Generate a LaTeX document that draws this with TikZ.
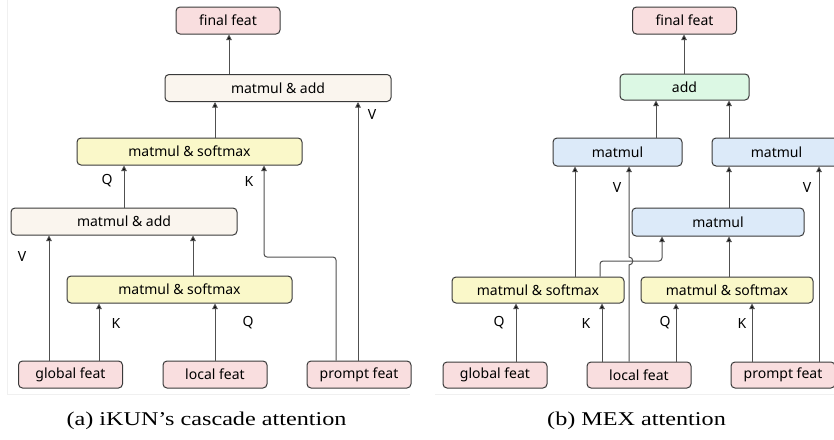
\documentclass[tikz,border=0pt]{standalone}
\usepackage{fontspec}
\setmainfont{Liberation Serif}
\newfontfamily\boxfont{Noto Sans}
\usetikzlibrary{arrows.meta}

\definecolor{featpink}{HTML}{F9DEDF}
\definecolor{creambox}{HTML}{FAF5EE}
\definecolor{yellowbox}{HTML}{FAF8C9}
\definecolor{greenbox}{HTML}{DCF8E4}
\definecolor{bluebox}{HTML}{DCEAF9}
\definecolor{edgegray}{HTML}{3A3A3A}
\definecolor{linegray}{HTML}{505050}

\tikzset{
  blk/.style={draw=edgegray, line width=1pt, rounded corners=4pt,
    inner sep=0pt, minimum height=27pt, font=\boxfont\fontsize{14}{16}\selectfont},
  feat/.style={blk, fill=featpink, minimum width=104pt},
  arr/.style={draw=linegray, line width=1pt, -{Triangle[length=5.5pt,width=5.5pt,fill=black]}},
  lbl/.style={font=\boxfont\fontsize{14}{16}\selectfont}
}

\begin{document}
\begin{tikzpicture}[x=1pt, y=-1pt]
\useasboundingbox (0,0) rectangle (834,439);
\draw[gray!12, line width=0.6pt] (7,0) -- (7,394) -- (410,394);
\draw[gray!12, line width=0.6pt] (435,394) -- (834,394);

% (a) cascade attention
\node[feat] (finalA) at (228,20.5) {final feat};
\node[blk, fill=creambox, minimum width=226pt] (addA) at (278,88) {matmul \& add};
\node[blk, fill=yellowbox, minimum width=225pt] (softA) at (189.5,151.5) {matmul \& softmax};
\node[blk, fill=creambox, minimum width=226pt] (addLowA) at (124,221.5) {matmul \& add};
\node[blk, fill=yellowbox, minimum width=225pt] (softLowA) at (179.5,289.5) {matmul \& softmax};
\node[feat] (globalA) at (70.5,374.5) {global feat};
\node[feat] (localA) at (215,374.5) {local feat};
\node[feat] (promptA) at (359,374.5) {prompt feat};

\coordinate (a1) at (229,0);
\coordinate (a2) at (215,0);
\coordinate (a3) at (358,0);
\coordinate (a4) at (124,0);
\coordinate (a5) at (264,257);
\coordinate (a6) at (336,257);
\coordinate (a7) at (49,0);
\coordinate (a8) at (99,0);
\coordinate (a9) at (193,0);

\draw[arr] (addA.north -| a1) -- (finalA.south -| a1);
\draw[arr] (softA.north -| a2) -- (addA.south -| a2);
\draw[arr] (promptA.north -| a3) -- (addA.south -| a3);
\draw[arr] (addLowA.north -| a4) -- (softA.south -| a4);
\draw[arr, rounded corners=3pt] (promptA.north -| a6) -- (a6) -- (a5) -- (softA.south -| a5);
\draw[arr] (globalA.north -| a7) -- (addLowA.south -| a7);
\draw[arr] (globalA.north -| a8) -- (softLowA.south -| a8);
\draw[arr] (softLowA.north -| a9) -- (addLowA.south -| a9);
\draw[arr] (localA.north -| a2) -- (softLowA.south -| a2);

\node[lbl] (vA1) at (372,115) {V};
\node[lbl] (qA1) at (107,181) {Q};
\node[lbl] (kA1) at (249,181) {K};
\node[lbl] (vA2) at (22,256) {V};
\node[lbl] (kA2) at (116,323) {K};
\node[lbl] (qA2) at (248,323) {Q};

% (b) MEX attention
\node[feat] (finalB) at (684.5,20.5) {final feat};
\node[blk, fill=greenbox, minimum width=129pt, minimum height=26pt] (addB) at (684.5,87) {add};
\node[blk, fill=bluebox, minimum width=129pt, minimum height=28pt] (mmB1) at (617.5,152) {matmul};
\node[blk, fill=bluebox, minimum width=129pt, minimum height=28pt] (mmB2) at (776.5,152) {matmul};
\node[blk, fill=bluebox, minimum width=172pt, minimum height=28pt] (mmB3) at (718,222) {matmul};
\node[blk, fill=yellowbox, minimum width=172pt, minimum height=26pt] (softB1) at (538,290) {matmul \& softmax};
\node[blk, fill=yellowbox, minimum width=172pt, minimum height=26pt] (softB2) at (727,290) {matmul \& softmax};
\node[feat, minimum height=26pt] (globalB) at (495,375) {global feat};
\node[feat, minimum height=26pt] (localB) at (639,375) {local feat};
\node[feat, minimum height=26pt] (promptB) at (783,375) {prompt feat};

\coordinate (b1) at (684,0);
\coordinate (b2) at (656,0);
\coordinate (b3) at (729,0);
\coordinate (b4) at (575,0);
\coordinate (b5) at (629,0);
\coordinate (b6) at (819,0);
\coordinate (b7) at (600,261);
\coordinate (b8) at (662,261);
\coordinate (b9) at (516,0);
\coordinate (b10) at (602,0);
\coordinate (b11) at (676,0);
\coordinate (b12) at (752,0);
\coordinate (hop) at (629,261);

\draw[arr] (addB.north -| b1) -- (finalB.south -| b1);
\draw[arr] (mmB1.north -| b2) -- (addB.south -| b2);
\draw[arr] (mmB2.north -| b3) -- (addB.south -| b3);
\draw[arr] (softB1.north -| b4) -- (mmB1.south -| b4);
\draw[arr] (localB.north -| b5) -- ([yshift=-4]hop)
  .. controls ([xshift=5,yshift=-4]hop) and ([xshift=5,yshift=4]hop) .. ([yshift=4]hop)
  -- (mmB1.south -| b5);
\draw[arr] (mmB3.north -| b3) -- (mmB2.south -| b3);
\draw[arr] (promptB.north -| b6) -- (mmB2.south -| b6);
\draw[arr, rounded corners=3pt] (softB1.north -| b7) -- (b7) -- (b8) -- (mmB3.south -| b8);
\draw[arr] (softB2.north -| b3) -- (mmB3.south -| b3);
\draw[arr] (globalB.north -| b9) -- (softB1.south -| b9);
\draw[arr] (localB.north -| b10) -- (softB1.south -| b10);
\draw[arr] (localB.north -| b11) -- (softB2.south -| b11);
\draw[arr] (promptB.north -| b12) -- (softB2.south -| b12);

\node[lbl] (vB1) at (617,187) {V};
\node[lbl] (vB2) at (807,187) {V};
\node[lbl] (qB1) at (499,323) {Q};
\node[lbl] (kB1) at (586,323) {K};
\node[lbl] (qB2) at (665,323) {Q};
\node[lbl] (kB2) at (742,323) {K};

% captions
\node[font=\fontsize{19.5}{22}\selectfont, xscale=1.24] (capA) at (206.5,421) {(a) iKUN's cascade attention};
\node[font=\fontsize{19.5}{22}\selectfont, xscale=1.24] (capB) at (636.5,421) {(b) MEX attention};
\end{tikzpicture}
\end{document}
